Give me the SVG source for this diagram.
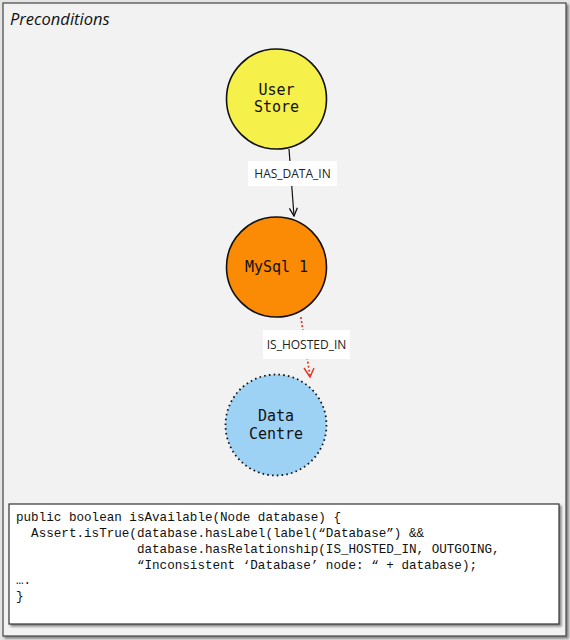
<svg xmlns="http://www.w3.org/2000/svg" width="570" height="640" viewBox="0 0 570 640">
<defs>
<marker id="arrBlack" viewBox="0 0 10 10" refX="9" refY="5" markerWidth="10" markerHeight="10" markerUnits="userSpaceOnUse" orient="auto">
<path d="M1,1 L9,5 L1,9" fill="none" stroke="#111" stroke-width="1.3"/>
</marker>
<marker id="arrRed" viewBox="0 0 10 10" refX="9" refY="5" markerWidth="10" markerHeight="10" markerUnits="userSpaceOnUse" orient="auto">
<path d="M1,1 L9,5 L1,9" fill="none" stroke="#e8321e" stroke-width="1.4"/>
</marker>
<filter id="sh" x="-5%" y="-5%" width="110%" height="115%">
<feDropShadow dx="2" dy="2" stdDeviation="1.2" flood-color="#000" flood-opacity="0.45"/>
</filter>
</defs>
<style>
.node { stroke: #111; stroke-width: 1.6; }
.nlabel { font-family: "DejaVu Sans Mono", monospace; font-size: 15px; fill: #111; text-anchor: middle; }
.elabel { font-family: "Open Sans", "Liberation Sans", sans-serif; font-size: 12px; fill: #222; text-anchor: middle; }
.lbox { fill: #ffffff; stroke: none; }
.code { font-family: "Liberation Mono", "DejaVu Sans Mono", monospace; font-size: 12.6px; fill: #111; white-space: pre; }
</style>
<rect x="0" y="0" width="570" height="640" fill="#e4e4e4"/>
<rect x="3" y="3" width="563" height="633" fill="#f2f2f2" stroke="#444" stroke-width="1.2" filter="url(#sh)"/>
<text x="10" y="25" font-family="Open Sans, Liberation Sans, sans-serif" font-style="italic" font-size="16.5px" fill="#111">Preconditions</text>
<g id="connectors">
<g id="edge-has-data-in">
<line x1="289" y1="149" x2="294" y2="216" stroke="#111" stroke-width="1.2" marker-end="url(#arrBlack)"/>
<rect class="lbox" x="248" y="161" width="89" height="25"/>
<text class="elabel" x="292.5" y="178">HAS_DATA_IN</text>
</g>
<g id="edge-is-hosted-in">
<line x1="301" y1="318" x2="310" y2="376" stroke="#e8321e" stroke-width="2" stroke-linecap="round" stroke-dasharray="0.1 4"/>
<path d="M304,368 L310,377 L314,368" fill="none" stroke="#e8321e" stroke-width="1.4"/>
<rect class="lbox" x="263" y="330" width="87" height="29"/>
<text class="elabel" x="306.5" y="349">IS_HOSTED_IN</text>
</g>
</g>
<g id="node-user-store">
<circle class="node" cx="276.5" cy="99" r="50" fill="#f5f04a"/>
<text class="nlabel" x="276.5" y="95">User</text>
<text class="nlabel" x="276.5" y="112">Store</text>
</g>
<g id="node-mysql">
<circle class="node" cx="276.5" cy="267" r="50" fill="#fb8a05"/>
<text class="nlabel" x="276.5" y="272">MySql 1</text>
</g>
<g id="node-data-centre">
<circle cx="276" cy="425" r="50.5" fill="#9ed2f5" stroke="#111" stroke-width="1.8" stroke-dasharray="1.6 3.2"/>
<text class="nlabel" x="276" y="421">Data</text>
<text class="nlabel" x="276" y="439">Centre</text>
</g>
<g id="code-box">
<rect x="9" y="504" width="550" height="120" fill="#ffffff" stroke="#333" stroke-width="1.2" filter="url(#sh)"/>
<text class="code" x="16" y="521">public boolean isAvailable(Node database) {</text>
<text class="code" x="16" y="537">  Assert.isTrue(database.hasLabel(label(“Database”) &amp;&amp;</text>
<text class="code" x="16" y="553">                database.hasRelationship(IS_HOSTED_IN, OUTGOING,</text>
<text class="code" x="16" y="569">                “Inconsistent ‘Database’ node: “ + database);</text>
<text class="code" x="16" y="584">….</text>
<text class="code" x="16" y="600">}</text>
</g>
</svg>
